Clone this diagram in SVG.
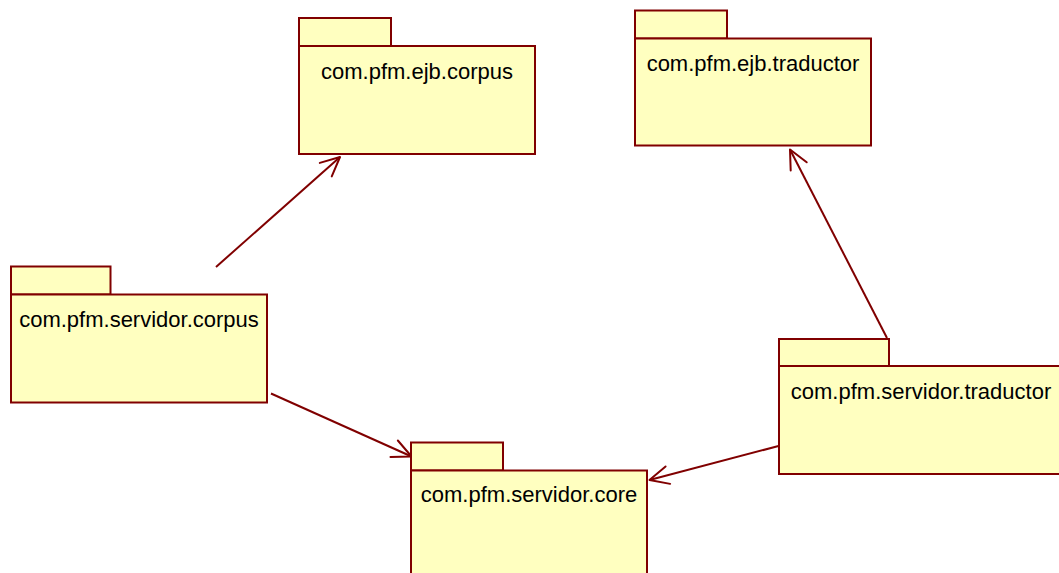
<svg xmlns="http://www.w3.org/2000/svg" width="1059" height="573" viewBox="0 0 1059 573">
<defs>
<style>
.pk{fill:#ffffc0;stroke:#800000;stroke-width:2}
.lbl{font-family:"Liberation Sans",Arial,sans-serif;font-size:22px;fill:#000;text-anchor:middle}
.dep{fill:none;stroke:#800000;stroke-width:2}
</style>
<marker id="arr" markerUnits="userSpaceOnUse" viewBox="-22 -12 24 24" refX="0" refY="0" markerWidth="24" markerHeight="24" orient="auto">
<path d="M-19,-9 L0,0 L-19,9" fill="none" stroke="#800000" stroke-width="2" stroke-linejoin="round" stroke-linecap="round"/>
</marker>
</defs>
<rect width="1059" height="573" fill="#fff"/>
<g id="connectors">
<line class="dep" x1="216" y1="267" x2="340" y2="157" marker-end="url(#arr)"/>
<line class="dep" x1="887" y1="338" x2="790" y2="149.5" marker-end="url(#arr)"/>
<line class="dep" x1="271" y1="393.5" x2="411.5" y2="456.5" marker-end="url(#arr)"/>
<line class="dep" x1="778.5" y1="446" x2="649.5" y2="480" marker-end="url(#arr)"/>
</g>
<g id="ejb-corpus">
<rect class="pk" x="299" y="18" width="92" height="28"/>
<rect class="pk" x="299" y="46" width="236" height="108"/>
<text class="lbl" x="417" y="79">com.pfm.ejb.corpus</text>
</g>
<g id="ejb-traductor">
<rect class="pk" x="635" y="10.5" width="92" height="28"/>
<rect class="pk" x="635" y="38.5" width="236" height="107"/>
<text class="lbl" x="753" y="71">com.pfm.ejb.traductor</text>
</g>
<g id="servidor-corpus">
<rect class="pk" x="11" y="266.5" width="99.5" height="28"/>
<rect class="pk" x="11" y="294.5" width="256" height="108"/>
<text class="lbl" x="139" y="327">com.pfm.servidor.corpus</text>
</g>
<g id="servidor-traductor">
<rect class="pk" x="779" y="339" width="110" height="27"/>
<rect class="pk" x="779" y="366" width="284" height="108"/>
<text class="lbl" x="921" y="398.5">com.pfm.servidor.traductor</text>
</g>
<g id="servidor-core">
<rect class="pk" x="411" y="442.5" width="92" height="28"/>
<rect class="pk" x="411" y="470.5" width="236" height="110"/>
<text class="lbl" x="529" y="502">com.pfm.servidor.core</text>
</g>
</svg>
